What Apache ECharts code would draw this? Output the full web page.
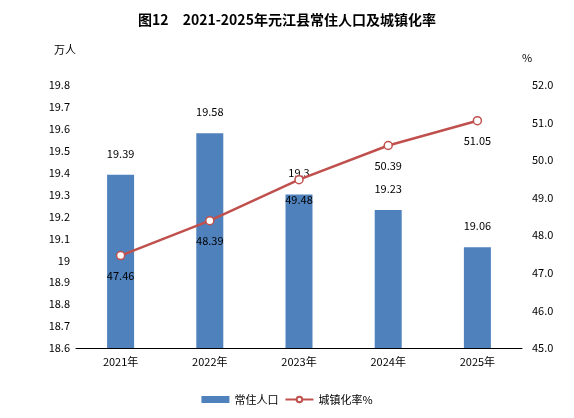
<!DOCTYPE html>
<html><head><meta charset="utf-8">
<script src="https://cdn.jsdelivr.net/npm/echarts@6/dist/echarts.min.js"></script>
</head><body style="margin:0">
<div id="c" style="width:574px;height:418px"></div>
<script>
var categories=['2021年','2022年','2023年','2024年','2025年'];
var population=[19.39,19.58,19.3,19.23,19.06];
var urbanRate=[47.46,48.39,49.48,50.39,51.05];
var ch=echarts.init(document.getElementById('c'));
var f='"Noto Sans CJK SC", sans-serif';
ch.setOption({
  animation:false,
  textStyle:{fontFamily:f},
  title:{text:'图12　2021-2025年元江县常住人口及城镇化率',left:'center',top:8,textStyle:{fontSize:14,fontWeight:'bold',color:'#000',fontFamily:f}},
  legend:{bottom:8,itemGap:6,textStyle:{fontSize:11,color:'#000'},data:[{name:'常住人口',icon:'rect'},{name:'城镇化率%'}],itemWidth:28,itemHeight:7},
  grid:{left:76,right:52,top:85,bottom:70},
  xAxis:{type:'category',data:categories,axisLine:{lineStyle:{color:'#000'}},axisTick:{alignWithLabel:false,lineStyle:{color:'#000'}},axisLabel:{color:'#000',fontSize:11}},
  yAxis:[
    {type:'value',min:18.6,max:19.8,interval:0.1,name:'万人',nameLocation:'end',nameGap:30,nameTextStyle:{color:'#000',fontSize:11,align:'right'},
     axisLine:{show:false},axisTick:{show:false},splitLine:{show:false},
     axisLabel:{color:'#000',fontSize:11,margin:6,formatter:function(v){var s=v.toFixed(1);return s==='19.0'?'19':s;}}},
    {type:'value',min:45,max:52,interval:1,name:'%',nameGap:22,nameTextStyle:{color:'#000',fontSize:11,align:'left'},
     axisLine:{show:false},axisTick:{show:false},splitLine:{show:false},
     axisLabel:{color:'#000',fontSize:11,margin:10,formatter:function(v){return v.toFixed(1);}}}
  ],
  series:[
    {name:'常住人口',type:'bar',data:population,barWidth:27,itemStyle:{color:'#4F81BD'},
     label:{show:true,position:'top',distance:16,color:'#000',fontSize:11}},
    {name:'城镇化率%',type:'line',yAxisIndex:1,data:urbanRate,symbol:'circle',symbolSize:8,
     lineStyle:{color:'#C0504D',width:2.5},itemStyle:{color:'#fff',borderColor:'#C0504D',borderWidth:1.5},
     label:{show:true,position:'bottom',distance:10,color:'#000',fontSize:11,formatter:function(p){return p.value.toFixed(2);}}}
  ]
});
</script></body></html>
